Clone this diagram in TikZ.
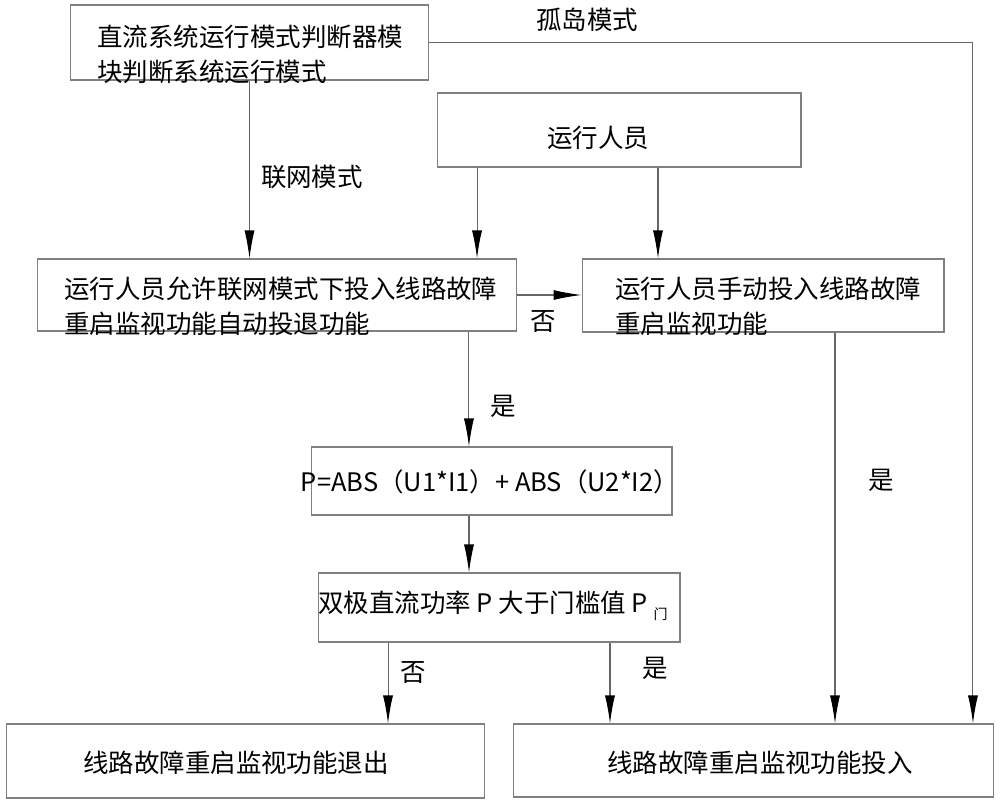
\documentclass[tikz,border=0pt]{standalone}
\usepackage{fontspec}
\setmainfont{Noto Sans CJK SC}
\usepackage{tikz}
\usetikzlibrary{arrows.meta, positioning}
\newcommand{\cnsize}{\fontsize{14.5}{19.9}\selectfont}
\newcommand{\menxian}{\raisebox{-0.5ex}{\fontsize{8}{8}\selectfont 门}}
\tikzset{
  box/.style = {draw = gray, line width = 0.6pt, rectangle, inner sep = 0pt},
  txt/.style = {align = left, inner sep = 0pt, font = \cnsize},
  lbl/.style = {inner sep = 0pt, font = \cnsize},
  flow/.style = {draw = gray!80!black, line width = 0.6pt,
    -{Latex[length = 5.6mm, width = 2mm, color = black]}}
}

\begin{document}
\begin{tikzpicture}[x = 0.02cm, y = -0.02cm]
\useasboundingbox (0, 0) rectangle (1000, 805); % page size

% boxes
\node[box, minimum width = 7.18cm, minimum height = 1.5cm] (sysmode) at (249.5, 42.5) {};
\node[box, minimum width = 7.28cm, minimum height = 1.48cm] (oper) at (619, 130) {};
\node[box, minimum width = 9.6cm, minimum height = 1.44cm] (allow) at (277, 295) {};
\node[box, minimum width = 7.24cm, minimum height = 1.46cm] (manual) at (763, 295.5) {};
\node[box, minimum width = 7.22cm, minimum height = 1.36cm] (power) at (491.5, 481) {};
\node[box, minimum width = 7.24cm, minimum height = 1.38cm] (judge) at (499, 607.5) {};
\node[box, minimum width = 9.58cm, minimum height = 1.48cm] (exit) at (245.5, 761) {};
\node[box, minimum width = 9.62cm, minimum height = 1.46cm] (enable) at (753.5, 760.5) {};

% texts
\node[txt, anchor = west] (sysmodetxt) at (97, 54) {直流系统运行模式判断器模\\块判断系统运行模式};
\node[txt] (opertxt) at (598, 138) {运行人员};
\node[txt, anchor = west] (allowtxt) at (64, 306.5) {运行人员允许联网模式下投入线路故障\\重启监视功能自动投退功能};
\node[txt, anchor = west] (manualtxt) at (615, 306.5) {运行人员手动投入线路故障\\重启监视功能};
\node[txt] (powertxt) at (490, 482) {P=ABS（U1*I1）+ ABS（U2*I2）};
\node[txt, anchor = west] (judgetxt) at (318, 606) {双极直流功率~P~大于门槛值~P~\menxian};
\node[txt] (exittxt) at (236, 763) {线路故障重启监视功能退出};
\node[txt] (enabletxt) at (760, 763) {线路故障重启监视功能投入};

% connectors
\draw[flow] (sysmode.south) -- node[lbl, right, pos = 0.54, xshift = 0.22cm] {联网模式}
  (sysmode.south |- allow.north);
\draw[flow] (sysmode.east) -| node[lbl, above, pos = 0.145, yshift = 0.2cm] {孤岛模式}
  ([xshift = 4.39cm]enable.north);
\draw[flow] ([xshift = -2.84cm]oper.south) -- ([xshift = -2.84cm]oper.south |- allow.north);
\draw[flow] ([xshift = 0.78cm]oper.south) -- ([xshift = 0.78cm]oper.south |- manual.north);
\draw[flow] (allow.east) -- node[lbl, below, pos = 0.4, yshift = -0.3cm] {否}
  (allow.east -| manual.west);
\draw[flow] ([xshift = 3.84cm]allow.south) -- node[lbl, right, pos = 0.655, xshift = 0.42cm] {是}
  ([xshift = 3.84cm]allow.south |- power.north);
\draw[flow] ([xshift = 1.44cm]manual.south) -- node[lbl, right, pos = 0.378, xshift = 0.66cm] {是}
  ([xshift = 1.44cm]manual.south |- enable.north);
\draw[flow] ([xshift = -0.45cm]power.south) -- ([xshift = -0.45cm]power.south |- judge.north);
\draw[flow] ([xshift = -2.22cm]judge.south) -- node[lbl, right, pos = 0.366, xshift = 0.24cm] {否}
  ([xshift = -2.22cm]judge.south |- exit.north);
\draw[flow] ([xshift = 2.22cm]judge.south) -- node[lbl, right, pos = 0.32, xshift = 0.64cm] {是}
  ([xshift = 2.22cm]judge.south |- enable.north);

\end{tikzpicture}
\end{document}
